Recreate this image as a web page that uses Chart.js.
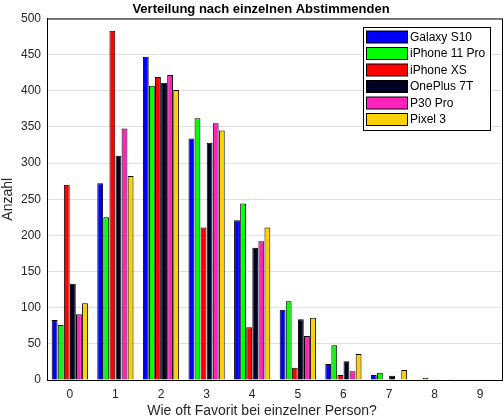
<!DOCTYPE html>
<html>
<head>
<meta charset="utf-8">
<script src="https://cdn.jsdelivr.net/npm/chart.js@4"></script>
<style>
  html, body { margin: 0; padding: 0; background: #ffffff; }
  #wrap { width: 503px; height: 420px; }
</style>
</head>
<body>
<div id="wrap"><canvas id="myChart" width="503" height="420"></canvas></div>
<script>
let categories = ['0', '1', '2', '3', '4', '5', '6', '7', '8', '9'];

let galaxy_s10  = [83, 272, 447, 334, 221, 97, 22, 7, 1, 0];
let iphone_11   = [76, 225, 407, 362, 244, 109, 48, 10, 3, 0];
let iphone_xs   = [270, 483, 419, 211, 73, 17, 7, 1, 0, 0];
let oneplus_7t  = [133, 310, 411, 328, 183, 84, 26, 6, 1, 0];
let p30_pro     = [91, 348, 422, 355, 192, 61, 12, 0, 0, 0];
let pixel_3     = [106, 282, 401, 345, 211, 86, 36, 14, 1, 0];

let series_names = ['Galaxy S10', 'iPhone 11 Pro', 'iPhone XS', 'OnePlus 7T', 'P30 Pro', 'Pixel 3'];
let series_data = [galaxy_s10, iphone_11, iphone_xs, oneplus_7t, p30_pro, pixel_3];
let palette = ['#0000ff', '#00ff00', '#ff0000', '#000022', '#ff22bb', '#ffd000'];

let chart_title = 'Verteilung nach einzelnen Abstimmenden';
let x_title = 'Wie oft Favorit bei einzelner Person?';

let font_family = '"Liberation Sans", Arial, Helvetica, sans-serif';

// frame, titles and the legend box are drawn by hand, matlab style
let box_legend = {
  id: 'box_legend',
  afterDraw(chart) {
    let ctx = chart.ctx;
    let area = chart.chartArea;
    ctx.save();
    ctx.strokeStyle = '#000000';
    ctx.lineWidth = 1;
    ctx.strokeRect(area.left + 0.5, area.top + 0.5, area.right - area.left - 1, area.bottom - area.top);

    // titles (matlab centres them a bit left of the plot centre here)
    ctx.textAlign = 'center';
    ctx.textBaseline = 'middle';
    ctx.fillStyle = '#000000';
    ctx.font = 'bold 13px ' + font_family;
    ctx.fillText(chart_title, 261, 9);
    ctx.fillStyle = '#262626';
    ctx.font = '14px ' + font_family;
    ctx.fillText(x_title, 262, 411);

    let x = 363, y = 27, w = 127, h = 103, row = 16.5;
    ctx.fillStyle = '#ffffff';
    ctx.fillRect(x, y, w, h);
    ctx.strokeStyle = '#000000';
    ctx.strokeRect(x + 0.5, y + 0.5, w, h);
    ctx.font = '12px ' + font_family;
    ctx.textAlign = 'left';
    chart.data.datasets.forEach((ds, idx) => {
      let py = y + 4 + idx * row;
      ctx.fillStyle = ds.backgroundColor;
      ctx.fillRect(x + 3.5, py, 41, 12);
      ctx.strokeStyle = '#000000';
      ctx.strokeRect(x + 3.5, py, 41, 12);
      ctx.fillStyle = '#000000';
      ctx.fillText(ds.label, x + 47, py + 6.5);
    });
    ctx.restore();
  }
};

let datasets = series_data.map((values, idx) => {
  return {
    label: series_names[idx],
    data: values,
    backgroundColor: palette[idx],
    borderColor: '#000000',
    borderWidth: 1,
    borderSkipped: 'start',
    categoryPercentage: 0.8,
    barPercentage: 0.96
  };
});

let settings = {
  type: 'bar',
  data: {
    labels: categories,
    datasets: datasets
  },
  options: {
    responsive: false,
    animation: false,
    layout: { padding: { top: 18.5, left: 0, right: 0, bottom: 0 } },
    plugins: {
      legend: { display: false },
      tooltip: { enabled: false },
      title: { display: false }
    },
    scales: {
      x: {
        grid: { display: false, drawTicks: false },
        border: { display: true, color: '#000000' },
        ticks: {
          color: '#262626',
          padding: 7,
          font: { family: font_family, size: 12 }
        },
        afterFit(scale) { scale.height = 40; }
      },
      y: {
        min: 0,
        max: 500,
        grid: { color: '#e0e0e0', drawTicks: false },
        border: { display: true, color: '#000000' },
        ticks: {
          stepSize: 50,
          color: '#262626',
          padding: 6,
          font: { family: font_family, size: 12 }
        },
        title: {
          display: true,
          text: 'Anzahl',
          color: '#262626',
          font: { family: font_family, size: 14 },
          padding: { top: 0, bottom: 0 }
        },
        afterFit(scale) { scale.width = 47; }
      }
    }
  },
  plugins: [box_legend]
};

window.onload = function() {
  window.chart = new Chart('myChart', settings);
};
</script>
</body>
</html>
